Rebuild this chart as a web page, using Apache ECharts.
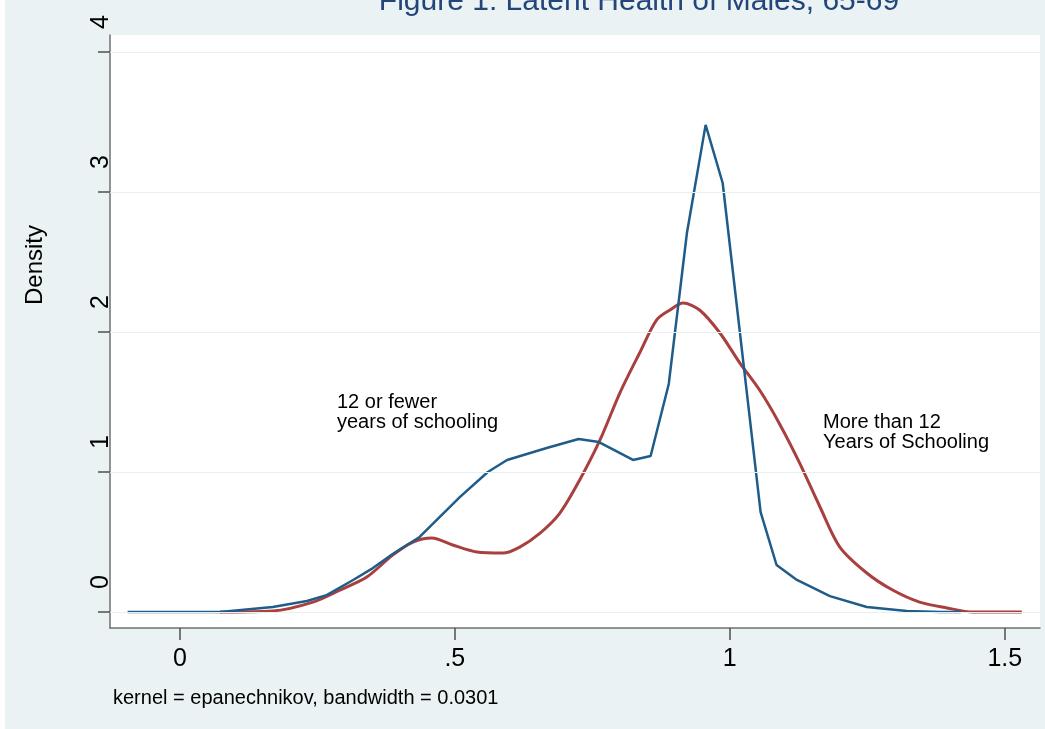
<!DOCTYPE html>
<html>
<head>
<meta charset="utf-8">
<script src="https://cdn.jsdelivr.net/npm/echarts@6/dist/echarts.min.js"></script>
<style>
  html, body { margin: 0; padding: 0; background: #fff; }
  #chart { width: 1045px; height: 729px; }
</style>
</head>
<body>
<div id="chart"></div>
<script>
// kernel density, 12 or fewer years of schooling  [health, density]
var lowEdu = [
  [-0.095, 0], [0.073, 0], [0.169, 0.036], [0.231, 0.079], [0.267, 0.121],
  [0.315, 0.229], [0.351, 0.314], [0.387, 0.414], [0.436, 0.536], [0.509, 0.821],
  [0.56, 1.0], [0.595, 1.086], [0.667, 1.171], [0.725, 1.236], [0.762, 1.214],
  [0.824, 1.086], [0.856, 1.114], [0.889, 1.629], [0.922, 2.707], [0.956, 3.479],
  [0.987, 3.064], [1.056, 0.714], [1.085, 0.336], [1.122, 0.229], [1.182, 0.114],
  [1.249, 0.036], [1.322, 0.007], [1.382, 0], [1.42, 0]
]
// kernel density, more than 12 years of schooling
var highEdu = [
  [0.073, 0], [0.169, 0.007], [0.242, 0.071], [0.291, 0.157], [0.34, 0.25],
  [0.387, 0.407], [0.424, 0.5], [0.458, 0.529], [0.496, 0.479], [0.54, 0.429],
  [0.587, 0.421], [0.618, 0.464], [0.655, 0.564], [0.691, 0.707], [0.727, 0.943],
  [0.764, 1.229], [0.8, 1.564], [0.836, 1.85], [0.867, 2.086], [0.891, 2.157],
  [0.915, 2.207], [0.945, 2.157], [0.982, 1.993], [1.018, 1.78], [1.055, 1.58],
  [1.091, 1.34], [1.127, 1.064], [1.164, 0.75], [1.2, 0.464], [1.249, 0.279],
  [1.296, 0.157], [1.345, 0.071], [1.395, 0.029], [1.442, 0], [1.531, 0]
]
var xTicks = [0, 0.5, 1, 1.5]
var yTicks = [0, 1, 2, 3, 4]

var font = 'Liberation Sans, Arial, Helvetica, sans-serif'
var chart = echarts.init(document.getElementById('chart'))

chart.setOption({
  backgroundColor: '#eaf2f3',
  animation: false,
  grid: {
    left: 110,
    right: 5,
    top: 35,
    bottom: 101,
    show: true,
    backgroundColor: '#fff',
    borderWidth: 0
  },
  xAxis: {
    type: 'value',
    min: -0.127,
    max: 1.564,
    axisLine: { onZero: false, lineStyle: { color: '#707070', width: 1.5 } },
    axisTick: { customValues: xTicks, length: 12, lineStyle: { color: '#505050', width: 1.5 } },
    axisLabel: {
      customValues: xTicks,
      fontFamily: font,
      fontSize: 25,
      color: '#000',
      margin: 19,
      formatter: function(v) {
        return v === 0 ? '0' : String(v).replace(/^0/, '')
      }
    },
    splitLine: { show: false }
  },
  yAxis: {
    type: 'value',
    min: -0.114,
    max: 4.121,
    axisLine: { show: true, onZero: false, lineStyle: { color: '#707070', width: 1.5 } },
    axisTick: { customValues: yTicks, length: 12, lineStyle: { color: '#505050', width: 1.5 } },
    axisLabel: {
      customValues: yTicks,
      rotate: 90,
      fontFamily: font,
      fontSize: 25,
      color: '#000',
      margin: -4,
      padding: [0, 0, 0, 60]
    },
    splitLine: { show: false }
  },
  graphic: [
    { type: 'rect', left: 0, top: 0, shape: { width: 5, height: 729 }, style: { fill: '#fff' }, silent: true },
    {
      type: 'text', x: 639, y: 2,
      style: { text: 'Figure 1: Latent Health of Males, 65-69', fill: '#23467a', font: '30px ' + font, textAlign: 'center', textVerticalAlign: 'middle' }
    },
    {
      type: 'text', x: 35, y: 265, rotation: Math.PI / 2,
      style: { text: 'Density', fill: '#000', font: '24px ' + font, textAlign: 'center', textVerticalAlign: 'middle' }
    },
    {
      type: 'text', x: 113, y: 698,
      style: { text: 'kernel = epanechnikov, bandwidth = 0.0301', fill: '#000', font: '20px ' + font, textAlign: 'left', textVerticalAlign: 'middle' }
    },
    {
      type: 'text', x: 337, y: 412,
      style: { text: '12 or fewer\nyears of schooling', fill: '#000', font: '20px ' + font, lineHeight: 20, textAlign: 'left', textVerticalAlign: 'middle' }
    },
    {
      type: 'text', x: 823, y: 432,
      style: { text: 'More than 12\nYears of Schooling', fill: '#000', font: '20px ' + font, lineHeight: 20, textAlign: 'left', textVerticalAlign: 'middle' }
    }
  ],
  series: [
    {
      name: 'grid',
      type: 'line',
      data: [],
      markLine: {
        silent: true,
        symbol: 'none',
        label: { show: false },
        lineStyle: { color: '#e6f0f1', width: 1, type: 'solid' },
        data: yTicks.map(function(v) { return { yAxis: v } })
      }
    },
    {
      name: '12 or fewer',
      type: 'line',
      data: lowEdu,
      showSymbol: false,
      lineStyle: { color: '#1f5c8a', width: 2.5 },
      z: 3
    },
    {
      name: 'More than 12',
      type: 'line',
      data: highEdu,
      smooth: 0.3,
      showSymbol: false,
      lineStyle: { color: '#a8403f', width: 3 },
      z: 2
    }
  ]
})
</script>
</body>
</html>
